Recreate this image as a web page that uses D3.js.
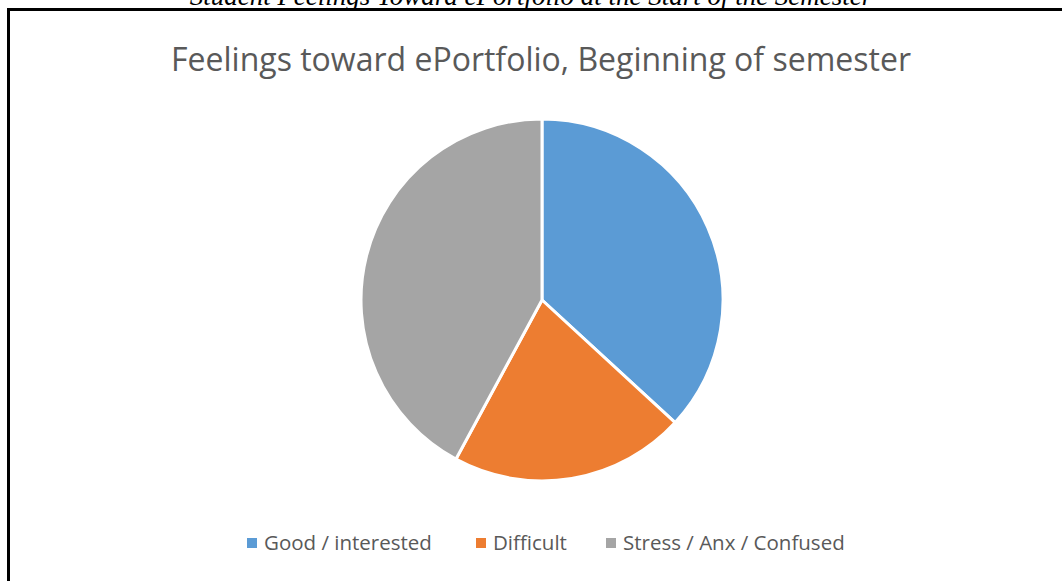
<!DOCTYPE html>
<html>
<head>
<meta charset="utf-8">
<script src="https://cdn.jsdelivr.net/npm/d3@7"></script>
<style>
  body { margin: 0; background: #fff; overflow: hidden; }
</style>
</head>
<body>
<div id="chart"></div>
<script>
// chart data
var categories = ["Good / interested", "Difficult", "Stress / Anx / Confused"];
var counts = [7, 4, 8];
var colors = ["#5B9BD5", "#ED7D31", "#A5A5A5"];

var caption = "Student Feelings Toward ePortfolio at the Start of the Semester";
var title = "Feelings toward ePortfolio, Beginning of semester";

var svgWidth = 1062;
var svgHeight = 581;

var svg = d3.select("#chart")
  .append("svg")
  .attr("width", svgWidth)
  .attr("height", svgHeight);

// caption above the frame (cut off at the top in the original)
svg.append("text")
  .attr("x", 531)
  .attr("y", 5)
  .attr("text-anchor", "middle")
  .attr("font-family", "Liberation Serif, serif")
  .attr("font-style", "italic")
  .attr("font-size", "27px")
  .attr("fill", "#000")
  .text(caption);

// frame
svg.append("rect")
  .attr("x", 8.5)
  .attr("y", 9.5)
  .attr("width", 1100)
  .attr("height", 700)
  .attr("fill", "none")
  .attr("stroke", "#000")
  .attr("stroke-width", 3);

svg.append("text")
  .attr("x", 541)
  .attr("y", 71)
  .attr("text-anchor", "middle")
  .attr("font-family", "Open Sans, sans-serif")
  .attr("font-size", "32px")
  .attr("fill", "#595959")
  .text(title);

// pie
var cx = 542, cy = 300, radius = 181;

var color = d3.scaleOrdinal().domain(categories).range(colors);

var pie = d3.pie().sort(null).value(d => d.value);
var arc = d3.arc().innerRadius(0).outerRadius(radius);

var data = categories.map((c, i) => ({ name: c, value: counts[i] }));

var pieGroup = svg.append("g")
  .attr("transform", `translate(${cx}, ${cy})`);

pieGroup.selectAll("path")
  .data(pie(data))
  .enter()
  .append("path")
  .attr("d", arc)
  .attr("fill", d => color(d.data.name))
  .attr("stroke", "#fff")
  .attr("stroke-width", 3)
  .attr("stroke-linejoin", "round");

// legend
var legendX = [247, 476, 606];
var legendY = 543;

var legend = svg.selectAll(".legend")
  .data(data)
  .enter()
  .append("g")
  .attr("class", "legend")
  .attr("transform", (d, i) => `translate(${legendX[i]}, ${legendY})`);

legend.append("rect")
  .attr("x", 0)
  .attr("y", -5)
  .attr("width", 10)
  .attr("height", 10)
  .attr("fill", d => color(d.name));

legend.append("text")
  .attr("x", 17)
  .attr("y", 0)
  .attr("dy", "0.35em")
  .attr("font-family", "Open Sans, sans-serif")
  .attr("font-size", "20.5px")
  .attr("fill", "#595959")
  .text(d => d.name);
</script>
</body>
</html>
